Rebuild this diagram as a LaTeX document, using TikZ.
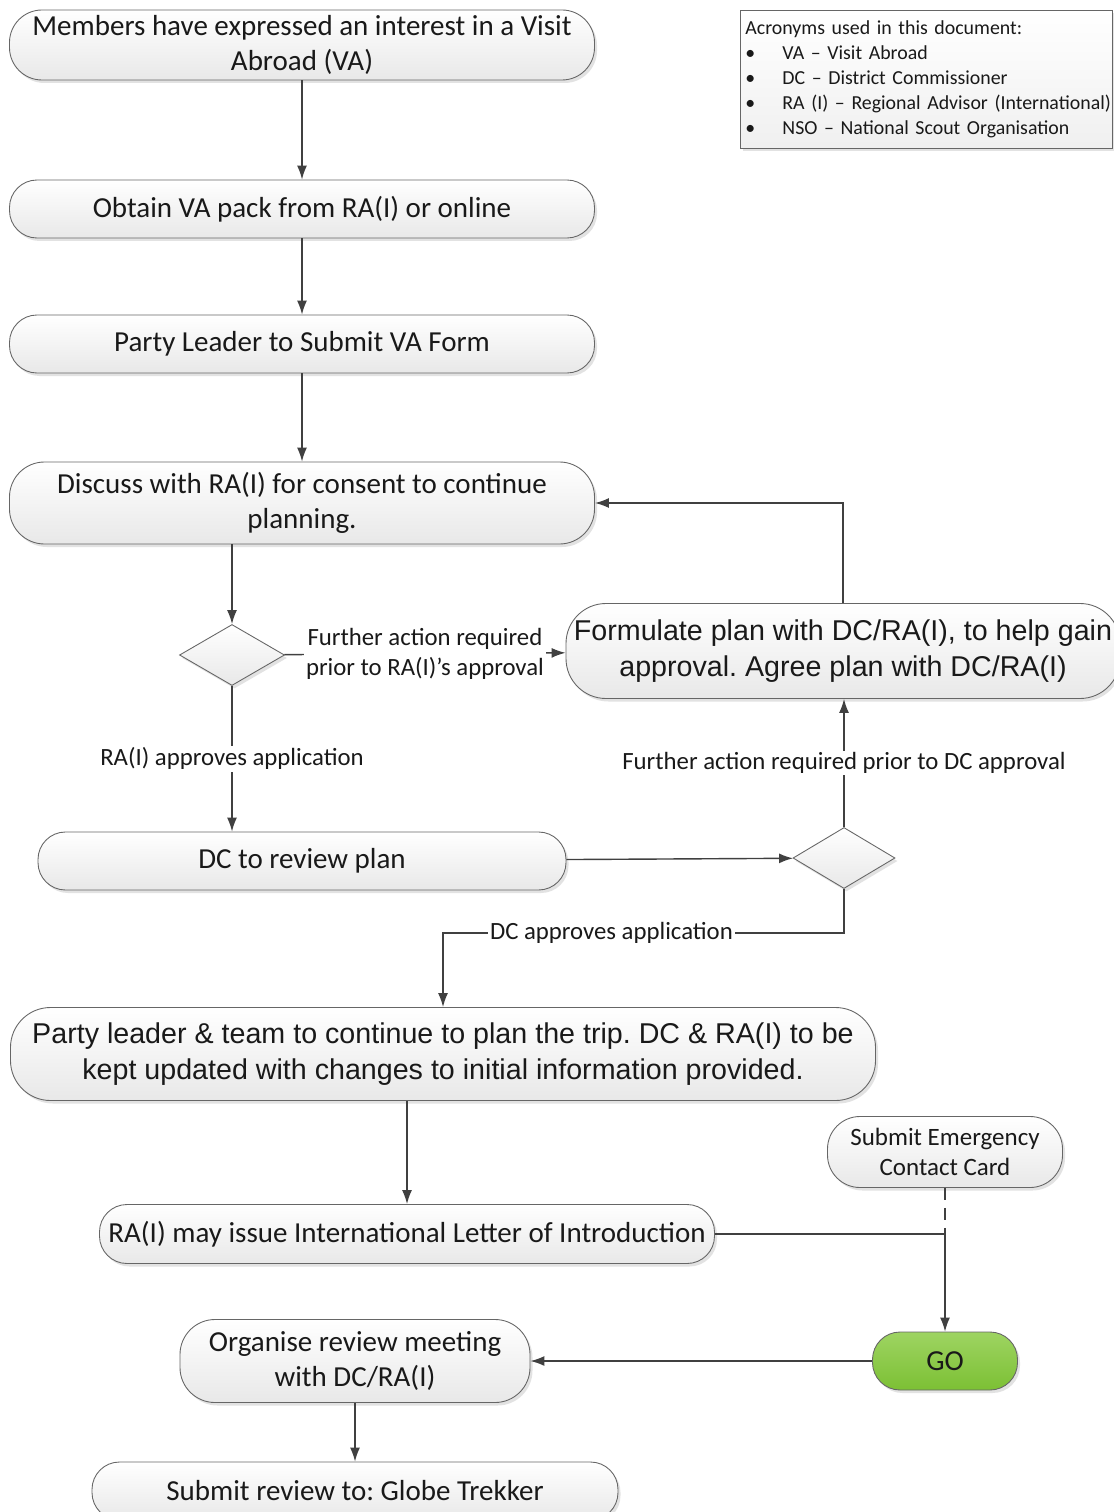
\documentclass[tikz,border=0pt]{standalone}
\usepackage{fontspec}
\setmainfont{Carlito}
\newfontfamily\arialfont{Liberation Sans}
\usepackage{tikz}
\usetikzlibrary{arrows.meta, positioning, shapes.geometric, shadows}
\definecolor{linegray}{RGB}{64,64,64}
\definecolor{golight}{RGB}{158,212,98}
\definecolor{godark}{RGB}{124,192,52}
\frenchspacing

\begin{document}
\begin{tikzpicture}[
  x=0.2mm, y=-0.2mm,
  proc/.style={draw=black!60, line width=0.5pt, rounded corners=5.5mm, top color=white, bottom color=black!9, drop shadow={shadow xshift=0.5mm, shadow yshift=-0.6mm, fill=black!22}, align=center, inner sep=1mm, text=black!90, font=\fontsize{16.5}{19.8}\selectfont},
  arialtext/.style={font=\arialfont\fontsize{16.3}{20.4}\selectfont},
  decision/.style={diamond, draw=black!60, line width=0.5pt, top color=white, bottom color=black!9, drop shadow={shadow xshift=0.5mm, shadow yshift=-0.6mm, fill=black!22}, minimum width=21mm, minimum height=12.2mm, inner sep=0},
  gobox/.style={top color=golight, bottom color=godark},
  lbl/.style={fill=white, inner sep=1pt, align=center, text=black!90, font=\fontsize{14.1}{17}\selectfont},
  arrow/.style={-{Latex[length=2.8mm,width=2mm]}, draw=linegray, line width=0.8pt}
]
\fill[white] (0,0) rectangle (1113,1512);
\useasboundingbox (0,0) rectangle (1113,1512);

\node[proc, minimum width=117mm, minimum height=14mm, rounded corners=6.5mm] (interest) at (302,45) {Members have expressed an interest in a Visit\\Abroad (VA)};
\node[proc, minimum width=117mm, minimum height=11.6mm] (pack) at (302,209) {Obtain VA pack from RA(I) or online};
\node[proc, minimum width=117mm, minimum height=11.6mm] (form) at (302,344) {Party Leader to Submit VA Form};
\node[proc, minimum width=117mm, minimum height=16.4mm, rounded corners=7mm] (consent) at (302,503) {Discuss with RA(I) for consent to continue\\planning.};
\node[decision] (raq) at (232,655) {};
\node[proc, arialtext, minimum width=110.8mm, minimum height=19mm, rounded corners=8mm] (plan) at (843,651) {Formulate plan with DC/RA(I), to help gain\\approval. Agree plan with DC/RA(I)};
\node[proc, minimum width=105.6mm, minimum height=11.6mm] (review) at (302,861) {DC to review plan};
\node[decision, minimum width=20.4mm] (dcq) at (844,858) {};
\node[proc, arialtext, minimum width=173mm, minimum height=18.6mm, rounded corners=8mm] (trip) at (443,1054) {Party leader \& team to continue to plan the trip. DC \& RA(I) to be\\kept updated with changes to initial information provided.};
\node[proc, minimum width=123mm, minimum height=11.8mm] (letter) at (407,1234) {RA(I) may issue International Letter of Introduction};
\node[proc, minimum width=47mm, minimum height=14.2mm, rounded corners=6.5mm, font=\fontsize{14.2}{17}\selectfont] (card) at (945,1152) {Submit Emergency\\Contact Card};
\node[proc, gobox, minimum width=29mm, minimum height=11.6mm] (go) at (945,1361) {GO};
\node[proc, minimum width=70mm, minimum height=16.6mm, rounded corners=7mm] (meeting) at (355,1361) {Organise review meeting\\with DC/RA(I)};
\node[proc, minimum width=105.2mm, minimum height=11.6mm] (globe) at (355,1491) {Submit review to: Globe Trekker};

\node[draw=black!60, line width=0.5pt, top color=white, bottom color=black!6, drop shadow={shadow xshift=0.5mm, shadow yshift=-0.6mm, fill=black!22}, anchor=north west, minimum width=74.4mm, minimum height=27.6mm, text width=72.4mm, inner sep=1mm, align=left, text=black!90, font=\fontsize{11.3}{14.2}\selectfont] (acronyms) at (740,10) {Acronyms used in this document:\\
\makebox[7.4mm][l]{•}VA – Visit Abroad\\
\makebox[7.4mm][l]{•}DC – District Commissioner\\
\mbox{\makebox[7.4mm][l]{•}RA (I) – Regional Advisor (International)}\\
\makebox[7.4mm][l]{•}NSO – National Scout Organisation};

\draw[arrow] (interest) -- (pack);
\draw[arrow] (pack) -- (form);
\draw[arrow] (form) -- (consent);
\draw[arrow] (consent.south -| raq) -- (raq.north);
\draw[arrow] (raq) -- node[lbl] {Further action required\\prior to RA(I)’s approval} (plan);
\draw[arrow] (raq) -- node[lbl] {RA(I) approves application} (raq |- review.north);
\draw[arrow] (plan.north) |- (consent.east);
\draw[arrow] (review) -- (dcq);
\draw[arrow] (dcq.north) -- node[lbl] {Further action required prior to DC approval} (dcq.north |- plan.south);
\draw[arrow] (dcq.south) -- ++(0,44) -| node[lbl, pos=0.29] {DC approves application} (trip.north);
\draw[arrow] (letter.north |- trip.south) -- (letter.north);
\coordinate (merge) at (letter.east -| go.north);
\draw[arrow] (letter.east) -| (go.north);
\draw[linegray, line width=0.8pt, dash pattern=on 2.4mm off 1.6mm] (card.south) -- (merge);
\draw[arrow] (go) -- (meeting);
\draw[arrow] (meeting) -- (globe);
\end{tikzpicture}
\end{document}
